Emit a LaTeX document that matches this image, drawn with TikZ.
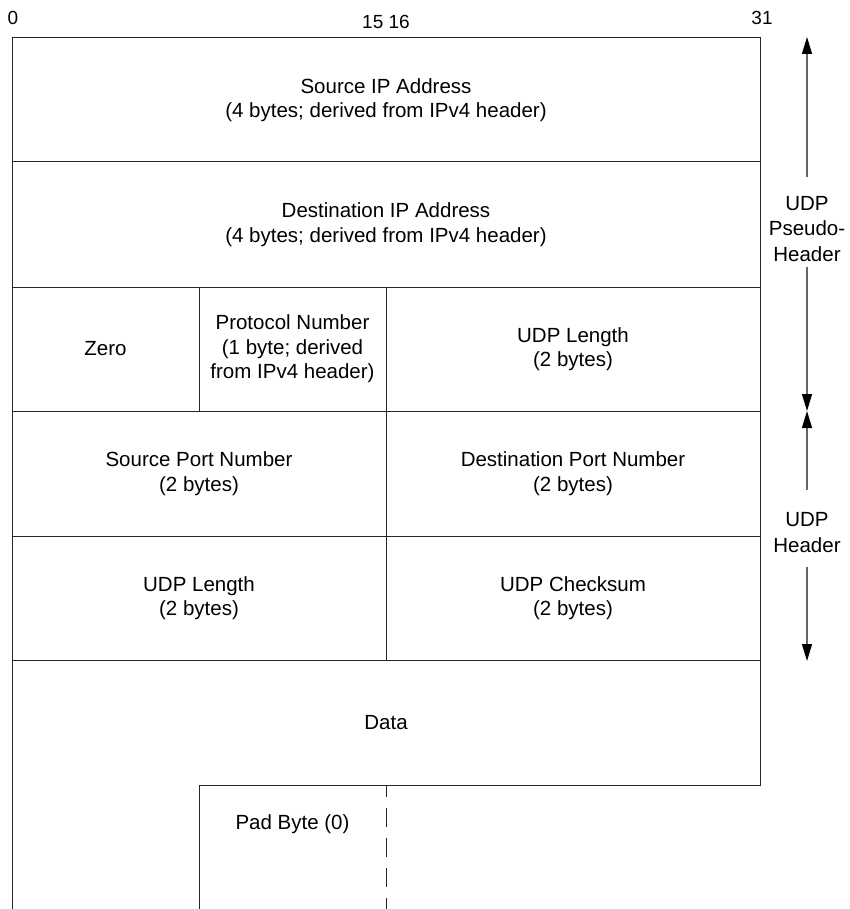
\documentclass[tikz,border=0pt]{standalone}
\usepackage{fontspec}
\setmainfont{Liberation Sans}
\usetikzlibrary{arrows.meta}
\tikzset{
  cell/.style={align=center, font=\fontsize{20.5}{24.5}\selectfont, inner sep=0pt},
  bitnum/.style={font=\fontsize{19}{22}\selectfont, inner sep=0pt},
  side/.style={align=center, font=\fontsize{20.5}{25.5}\selectfont, inner sep=0pt},
  boxline/.style={line width=1pt, black!85},
  spanarrow/.style={line width=1.3pt, black!60, -{Triangle[length=17pt,width=10pt,color=black]}},
}
\begin{document}
\begin{tikzpicture}[x=1pt,y=-1pt]
\useasboundingbox (0,0) rectangle (850,909);
% frame
\draw[boxline] (12,909) -- (12,38) -- (760,38) -- (760,785) -- (199,785) -- (199,909);
\foreach \yy in {162,287,411,536,660} \draw[boxline] (12,\yy) -- (760,\yy);
\draw[boxline] (199,287) -- (199,411);
\draw[boxline] (386,287) -- (386,660);
\draw[boxline, dash pattern=on 19pt off 11pt, dash phase=7pt] (386,785) -- (386,909);
% bit numbers
\node[bitnum] (b0) at (13,18) {0};
\node[bitnum] (b15) at (386,22) {15 16};
\node[bitnum] (b31) at (762,18) {31};
% cells
\node[cell] (srcip) at (386,100) {Source IP Address\\(4 bytes; derived from IPv4 header)};
\node[cell] (dstip) at (386,224.5) {Destination IP Address\\(4 bytes; derived from IPv4 header)};
\node[cell] (zero) at (105.5,349) {Zero};
\node[cell] (proto) at (292.5,349) {Protocol Number\\(1 byte; derived\\from IPv4 header)};
\node[cell] (len1) at (573,349) {UDP Length\\(2 bytes)};
\node[cell] (sport) at (199,473.5) {Source Port Number\\(2 bytes)};
\node[cell] (dport) at (573,473.5) {Destination Port Number\\(2 bytes)};
\node[cell] (len2) at (199,598) {UDP Length\\(2 bytes)};
\node[cell] (csum) at (573,598) {UDP Checksum\\(2 bytes)};
\node[cell] (data) at (386,722.5) {Data};
\node[cell] (pad) at (292.5,824) {Pad Byte (0)};
% side labels
\node[side] (pseudo) at (807,229) {UDP\\Pseudo-\\Header};
\node[side] (hdr) at (807,532.5) {UDP\\Header};
\coordinate (phA) at (807,177);
\coordinate (phTop) at (807,37);
\coordinate (phB) at (807,267);
\coordinate (mid) at (807,411);
\coordinate (hA) at (807,490);
\coordinate (hB) at (807,567);
\coordinate (hBot) at (807,661);
\draw[spanarrow] (phA) -- (phTop);
\draw[spanarrow] (phB) -- (mid);
\draw[spanarrow] (hA) -- (mid);
\draw[spanarrow] (hB) -- (hBot);
\end{tikzpicture}
\end{document}
